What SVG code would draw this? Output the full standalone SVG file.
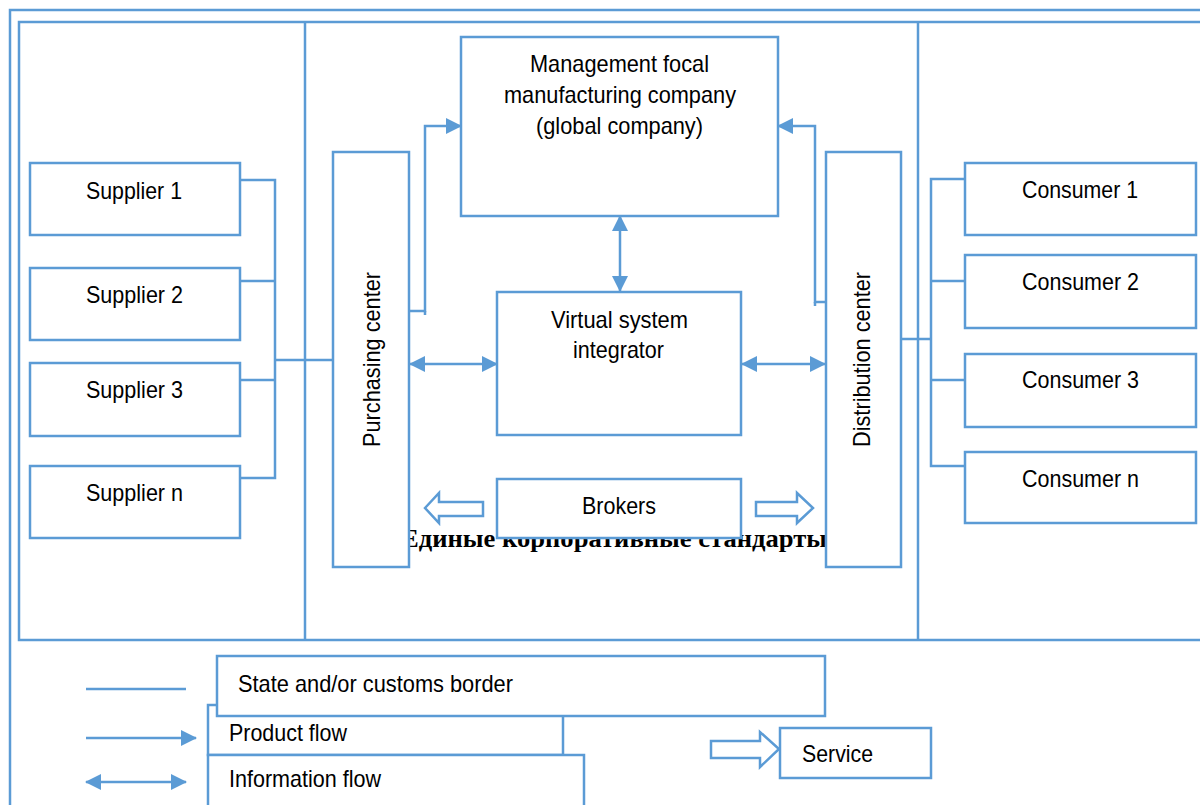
<svg xmlns="http://www.w3.org/2000/svg" width="1200" height="805" viewBox="0 0 1200 805">
  <style>
    .box { fill: #ffffff; stroke: #5B9BD5; stroke-width: 2.5; }
    .frame { fill: none; stroke: #5B9BD5; stroke-width: 2.5; }
    .ln { fill: none; stroke: #5B9BD5; stroke-width: 2.5; }
    .hollow { fill: #ffffff; stroke: #5B9BD5; stroke-width: 2.5; stroke-linejoin: miter; }
    .lbl { font-family: "Liberation Sans", Arial, sans-serif; font-size: 24px; fill: #000000; }
    .ru { font-family: "Liberation Serif", "Times New Roman", serif; font-size: 25px; font-weight: bold; fill: #000000; }
  </style>
  <defs>
    <marker id="head" markerUnits="userSpaceOnUse" markerWidth="16" markerHeight="16" viewBox="0 0 16 16" refX="15" refY="8" orient="auto-start-reverse">
      <path d="M0,0 L16,8 L0,16 Z" fill="#5B9BD5"/>
    </marker>
  </defs>

  <rect width="1200" height="805" fill="#ffffff"/>

  <!-- border frames -->
  <g id="borders">
    <rect class="frame" x="10" y="10" width="1200" height="810"/>
    <rect class="frame" x="19" y="22" width="1190" height="618"/>
    <line class="ln" x1="305" y1="22" x2="305" y2="640"/>
    <line class="ln" x1="918" y1="22" x2="918" y2="640"/>
  </g>

  <!-- corporate standards caption (partly covered by the boxes) -->
  <text class="ru" x="401" y="547" textLength="426" lengthAdjust="spacingAndGlyphs">Единые корпоративные стандарты</text>

  <!-- connectors -->
  <g id="connectors">
    <!-- suppliers bus -->
    <polyline class="ln" points="240,180 275,180 275,478 240,478"/>
    <line class="ln" x1="240" y1="281" x2="275" y2="281"/>
    <line class="ln" x1="240" y1="380" x2="275" y2="380"/>
    <line class="ln" x1="275" y1="360" x2="333" y2="360"/>
    <!-- consumers bus -->
    <polyline class="ln" points="965,179 931,179 931,466 965,466"/>
    <line class="ln" x1="931" y1="281" x2="965" y2="281"/>
    <line class="ln" x1="931" y1="380" x2="965" y2="380"/>
    <line class="ln" x1="901" y1="339" x2="931" y2="339"/>
    <!-- product flows to management -->
    <polyline class="ln" points="409,311 425,311 425,126 461,126" marker-end="url(#head)"/>
    <line class="ln" x1="425" y1="311" x2="425" y2="315"/>
    <polyline class="ln" points="826,302 815,302 815,126 778,126" marker-end="url(#head)"/>
    <line class="ln" x1="815" y1="302" x2="815" y2="306"/>
    <!-- information flows -->
    <line class="ln" x1="620" y1="216" x2="620" y2="291" marker-start="url(#head)" marker-end="url(#head)"/>
    <line class="ln" x1="410" y1="364" x2="497" y2="364" marker-start="url(#head)" marker-end="url(#head)"/>
    <line class="ln" x1="742" y1="364" x2="825" y2="364" marker-start="url(#head)" marker-end="url(#head)"/>
    <!-- service arrows -->
    <polygon class="hollow" points="425,508 439,493 439,502 483,502 483,516 439,516 439,523"/>
    <polygon class="hollow" points="756,502 797,502 797,493 813,508 797,523 797,516 756,516"/>
  </g>

  <!-- suppliers -->
  <g id="supplier-1"><rect class="box" x="30" y="163" width="210" height="72"/><text class="lbl" x="86" y="199" textLength="96" lengthAdjust="spacingAndGlyphs">Supplier 1</text></g>
  <g id="supplier-2"><rect class="box" x="30" y="268" width="210" height="72"/><text class="lbl" x="86" y="303" textLength="97" lengthAdjust="spacingAndGlyphs">Supplier 2</text></g>
  <g id="supplier-3"><rect class="box" x="30" y="363" width="210" height="73"/><text class="lbl" x="86" y="398" textLength="97" lengthAdjust="spacingAndGlyphs">Supplier 3</text></g>
  <g id="supplier-n"><rect class="box" x="30" y="466" width="210" height="72"/><text class="lbl" x="86" y="501" textLength="97" lengthAdjust="spacingAndGlyphs">Supplier n</text></g>

  <!-- purchasing center -->
  <g id="purchasing-center">
    <rect class="box" x="333" y="152" width="76" height="415"/>
    <text class="lbl" transform="translate(380,447) rotate(-90)" x="0" y="0" textLength="175" lengthAdjust="spacingAndGlyphs">Purchasing center</text>
  </g>

  <!-- management -->
  <g id="management">
    <rect class="box" x="461" y="37" width="317" height="179"/>
    <text class="lbl" x="530" y="72" textLength="179" lengthAdjust="spacingAndGlyphs">Management focal</text>
    <text class="lbl" x="504" y="103" textLength="232" lengthAdjust="spacingAndGlyphs">manufacturing company</text>
    <text class="lbl" x="536" y="134" textLength="167" lengthAdjust="spacingAndGlyphs">(global company)</text>
  </g>

  <!-- virtual system integrator -->
  <g id="integrator">
    <rect class="box" x="497" y="292" width="244" height="143"/>
    <text class="lbl" x="551" y="328" textLength="137" lengthAdjust="spacingAndGlyphs">Virtual system</text>
    <text class="lbl" x="573" y="358" textLength="91" lengthAdjust="spacingAndGlyphs">integrator</text>
  </g>

  <!-- brokers -->
  <g id="brokers">
    <rect class="box" x="497" y="479" width="244" height="59"/>
    <text class="lbl" x="582" y="514" textLength="74" lengthAdjust="spacingAndGlyphs">Brokers</text>
  </g>

  <!-- distribution center -->
  <g id="distribution-center">
    <rect class="box" x="826" y="152" width="75" height="415"/>
    <text class="lbl" transform="translate(870,447) rotate(-90)" x="0" y="0" textLength="175" lengthAdjust="spacingAndGlyphs">Distribution center</text>
  </g>

  <!-- consumers -->
  <g id="consumer-1"><rect class="box" x="965" y="163" width="231" height="72"/><text class="lbl" x="1022" y="198" textLength="116" lengthAdjust="spacingAndGlyphs">Consumer 1</text></g>
  <g id="consumer-2"><rect class="box" x="965" y="255" width="231" height="73"/><text class="lbl" x="1022" y="290" textLength="117" lengthAdjust="spacingAndGlyphs">Consumer 2</text></g>
  <g id="consumer-3"><rect class="box" x="965" y="354" width="231" height="73"/><text class="lbl" x="1022" y="388" textLength="117" lengthAdjust="spacingAndGlyphs">Consumer 3</text></g>
  <g id="consumer-n"><rect class="box" x="965" y="452" width="231" height="71"/><text class="lbl" x="1022" y="487" textLength="117" lengthAdjust="spacingAndGlyphs">Consumer n</text></g>

  <!-- legend -->
  <g id="legend">
    <line class="ln" x1="86" y1="689" x2="186" y2="689"/>
    <line class="ln" x1="86" y1="738" x2="196" y2="738" marker-end="url(#head)"/>
    <line class="ln" x1="86" y1="782" x2="186" y2="782" marker-start="url(#head)" marker-end="url(#head)"/>
    <rect class="box" x="208" y="705" width="355" height="50"/>
    <rect class="box" x="208" y="755" width="376" height="60"/>
    <rect class="box" x="217" y="656" width="608" height="60"/>
    <text class="lbl" x="238" y="692" textLength="275" lengthAdjust="spacingAndGlyphs">State and/or customs border</text>
    <text class="lbl" x="229" y="741" textLength="118" lengthAdjust="spacingAndGlyphs">Product flow</text>
    <text class="lbl" x="229" y="787" textLength="152" lengthAdjust="spacingAndGlyphs">Information flow</text>
    <polygon class="hollow" points="711,741 760,741 760,732 779,749 760,767 760,758 711,758"/>
    <rect class="box" x="780" y="728" width="151" height="50"/>
    <text class="lbl" x="802" y="762" textLength="71" lengthAdjust="spacingAndGlyphs">Service</text>
  </g>
</svg>
